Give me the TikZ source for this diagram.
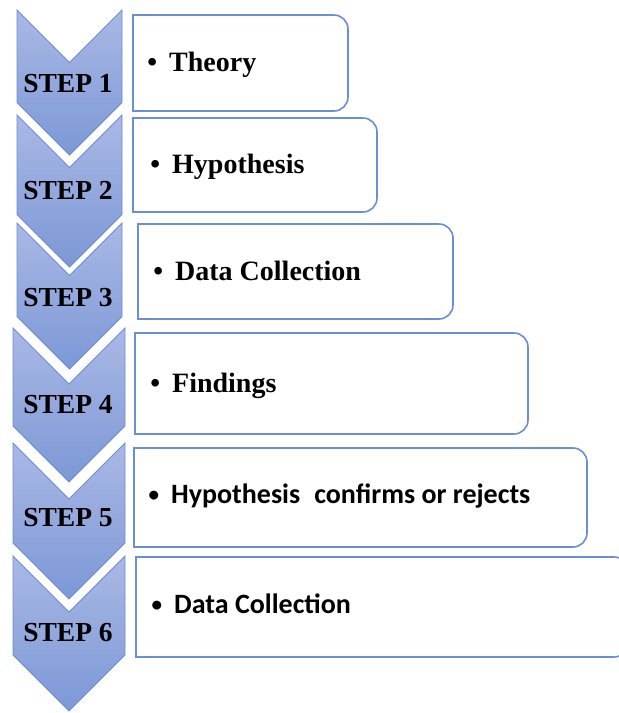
\documentclass[tikz,border=0pt]{standalone}
\usepackage{fontspec}
\setmainfont{Liberation Serif}
\newfontfamily\boxsans{Carlito}
\definecolor{chevtop}{RGB}{170,184,229}
\definecolor{chevbot}{RGB}{124,152,214}
\definecolor{chevedge}{RGB}{108,141,211}
\definecolor{boxline}{RGB}{106,142,216}
\tikzset{
  chevfill/.style={top color=chevtop, bottom color=chevbot, draw=chevedge, line width=0.9pt, line join=miter},
  boxoutline/.style={draw=boxline, line width=1.6pt, fill=white},
  steplabel/.style={anchor=base, inner sep=0pt, font=\fontsize{27.5}{30}\selectfont\bfseries},
  serifitem/.style={anchor=base west, inner sep=0pt, font=\fontsize{28}{32}\selectfont\bfseries},
  sansitem/.style={anchor=base west, inner sep=0pt, font=\fontsize{28}{32}\selectfont\boxsans\bfseries},
}
% smaller bullet for the sans-serif items
\newcommand\sansbullet{\llap{\raisebox{1.5pt}{\fontsize{21}{24}\selectfont•}\hspace{12pt}}}
% chevron: top y, bottom y, left x, right x (y measured downwards)
\newcommand\drawchevron[4]{%
  \shade[chevfill] (#3,-#1) -- ({(#3+#4)/2},{-(#1+(#4-#3)/2)}) -- (#4,-#1)
    -- (#4,{-(#2-(#4-#3)/2)}) -- ({(#3+#4)/2},-#2) -- (#3,{-(#2-(#4-#3)/2)}) -- cycle;}
% text box with rounded right corners: left, top, right, bottom
\newcommand\drawstepbox[4]{%
  \draw[boxoutline] (#1,-#2) -- ({#3-14},-#2) arc[start angle=90, end angle=0, radius=14]
    -- (#3,{-#4+14}) arc[start angle=0, end angle=-90, radius=14] -- (#1,-#4) -- cycle;}
\begin{document}
\begin{tikzpicture}[x=1pt, y=1pt]
  \useasboundingbox (0,0) rectangle (619,-713);
  \clip (0,0) rectangle (619,-713);

  % step chevrons
  \drawchevron{10}{155}{17}{122}
  \drawchevron{115}{267}{17}{122}
  \drawchevron{223}{369}{17}{122}
  \drawchevron{328}{482}{13}{125}
  \drawchevron{443}{599}{13}{125}
  \drawchevron{556}{711}{13}{125}

  \node[steplabel] (s1) at (68,-92)  {STEP 1};
  \node[steplabel] (s2) at (68,-199) {STEP 2};
  \node[steplabel] (s3) at (68,-306) {STEP 3};
  \node[steplabel] (s4) at (68,-413) {STEP 4};
  \node[steplabel] (s5) at (68,-526) {STEP 5};
  \node[steplabel] (s6) at (68,-641) {STEP 6};

  % text boxes
  \drawstepbox{133}{15}{348}{111}
  \drawstepbox{133}{118}{377}{212}
  \drawstepbox{138}{224}{453}{319}
  \drawstepbox{135}{333}{528}{434}
  \drawstepbox{134}{448}{587}{547}
  \drawstepbox{136}{557}{628}{657}

  \node[serifitem] (t1) at (169,-71)  {\llap{•\hspace{12pt}}Theory};
  \node[serifitem] (t2) at (172,-173) {\llap{•\hspace{12pt}}Hypothesis};
  \node[serifitem] (t3) at (175,-280) {\llap{•\hspace{12pt}}Data Collection};
  \node[serifitem] (t4) at (172,-392) {\llap{•\hspace{12pt}}Findings};
  \node[sansitem]  (t5) at (171,-503) {\sansbullet Hypothesis\hspace{14pt}confirms or rejects};
  \node[sansitem]  (t6) at (174,-613) {\sansbullet Data Collection};
\end{tikzpicture}
\end{document}
